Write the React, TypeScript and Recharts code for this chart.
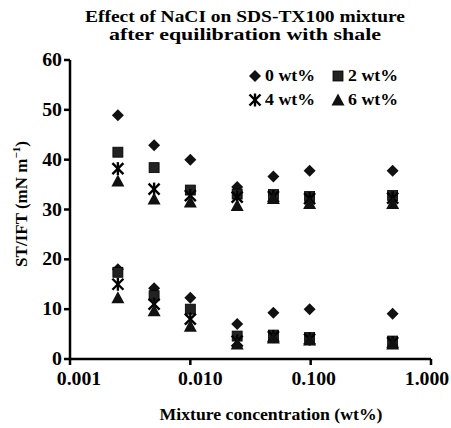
import React from 'react';
import { ScatterChart, Scatter, XAxis, YAxis, Label, Legend } from 'recharts';

const concentrations = [0.0025, 0.005, 0.01, 0.0245, 0.049, 0.098, 0.48];
const seriesNames = ['0 wt%', '2 wt%', '4 wt%', '6 wt%'];
const st0 = [48.9, 42.9, 40.0, 34.5, 36.6, 37.8, 37.8];
const ift0 = [18.0, 14.2, 12.3, 7.0, 9.3, 10.0, 9.1];
const st2 = [41.5, 38.4, 33.9, 33.1, 33.0, 32.6, 32.8];
const ift2 = [17.4, 12.7, 10.0, 4.6, 4.8, 4.3, 3.6];
const st4 = [38.2, 34.1, 32.8, 32.5, 32.6, 32.2, 32.3];
const ift4 = [15.0, 11.0, 8.0, 3.6, 4.5, 4.0, 3.3];
const st6 = [35.7, 32.1, 31.5, 30.8, 32.2, 31.2, 31.2];
const ift6 = [12.3, 9.7, 6.6, 3.0, 4.2, 3.8, 3.0];
const xTicks = [0.001, 0.01, 0.1, 1];
const yTicks = [0, 10, 20, 30, 40, 50, 60];
const titleLines = ['Effect of NaCI on SDS-TX100 mixture', 'after equilibration with shale'];
const xTitle = 'Mixture concentration (wt%)';

const FONT = '"Liberation Serif", "Times New Roman", serif';
const SX = 1.1;
const X_TICK_SHIFT = [9, 10, 3, -4];

const build = (st: number[], ift: number[]) =>
  concentrations.map((c, i) => ({ x: c, y: st[i] })).concat(concentrations.map((c, i) => ({ x: c, y: ift[i] })));

const seriesData = [build(st0, ift0), build(st2, ift2), build(st4, ift4), build(st6, ift6)];

const Diamond = (p: any) => {
  const { cx, cy } = p;
  const r = 6;
  return <path d={`M${cx},${cy - r}L${cx + r},${cy}L${cx},${cy + r}L${cx - r},${cy}Z`} fill="#111" />;
};
const Square = (p: any) => {
  const { cx, cy } = p;
  const s = 10;
  return <rect x={cx - s / 2} y={cy - s / 2} width={s} height={s} fill="#222" stroke="#000" strokeWidth={0.8} />;
};
const Aster = (p: any) => {
  const { cx, cy } = p;
  const r = 5.5;
  return (
    <g stroke="#000" strokeWidth={2.4} fill="none">
      <line x1={cx - r} y1={cy - r} x2={cx + r} y2={cy + r} />
      <line x1={cx - r} y1={cy + r} x2={cx + r} y2={cy - r} />
      <line x1={cx} y1={cy - r - 1} x2={cx} y2={cy + r + 1} />
    </g>
  );
};
const Tri = (p: any) => {
  const { cx, cy } = p;
  const r = 6.5;
  return <path d={`M${cx},${cy - r}L${cx + r},${cy + r * 0.85}L${cx - r},${cy + r * 0.85}Z`} fill="#111" />;
};

const shapes = [Diamond, Square, Aster, Tri];

const XTick = (p: any) => {
  const { x, y, payload, index } = p;
  const shift = X_TICK_SHIFT[index] ?? 0;
  return (
    <g transform={`translate(${x + shift},${y + 18}) scale(${SX},1)`}>
      <text x={0} y={0} textAnchor="middle" fontFamily={FONT} fontWeight="bold" fontSize={18} fill="#000">
        {Number(payload.value).toFixed(3)}
      </text>
    </g>
  );
};
const YTick = (p: any) => {
  const { x, y, payload } = p;
  return (
    <g transform={`translate(${x},${y + 6}) scale(${SX},1)`}>
      <text x={0} y={0} textAnchor="end" fontFamily={FONT} fontWeight="bold" fontSize={18} fill="#000">
        {payload.value}
      </text>
    </g>
  );
};

const YLabel = () => (
  <g transform="translate(27,204) rotate(-90)">
    <text x={0} y={0} textAnchor="middle" fontFamily={FONT} fontWeight="bold" fontSize={17} fill="#000">
      ST/IFT (mN m
      <tspan dy={-7} fontSize={11}>−1</tspan>
      <tspan dy={7}>)</tspan>
    </text>
  </g>
);

const XLabel = () => (
  <text
    x={271}
    y={420}
    textAnchor="middle"
    textLength={223}
    lengthAdjust="spacingAndGlyphs"
    fontFamily={FONT}
    fontWeight="bold"
    fontSize={17}
    fill="#000"
  >
    {xTitle}
  </text>
);

const LegendContent = () => {
  const items = seriesNames.map((n, i) => ({ n, S: shapes[i] }));
  return (
    <div style={{ display: 'grid', gridTemplateColumns: '83px 80px', rowGap: 6, fontFamily: FONT, fontWeight: 'bold', fontSize: 17 }}>
      {items.map(({ n, S }) => (
        <div key={n} style={{ display: 'flex', alignItems: 'center', height: 18 }}>
          <svg width={16} height={16} style={{ marginRight: 2 }}>
            <S cx={8} cy={8} />
          </svg>
          <span style={{ display: 'inline-block', transform: 'scaleX(1.05)', transformOrigin: 'left center' }}>{n}</span>
        </div>
      ))}
    </div>
  );
};

const titleWidths = [320, 272];
const AX = { stroke: '#000', strokeWidth: 2.5 };

export default function App() {
  return (
    <div style={{ position: 'absolute', left: 0, top: 0, width: 451, height: 428, background: '#fff' }}>
      <svg width={451} height={52} style={{ position: 'absolute', left: 0, top: 0 }}>
        {titleLines.map((t, i) => (
          <text
            key={t}
            x={245}
            y={22 + i * 18}
            textAnchor="middle"
            textLength={titleWidths[i]}
            lengthAdjust="spacingAndGlyphs"
            fontFamily={FONT}
            fontWeight="bold"
            fontSize={16}
            fill="#000"
          >
            {t}
          </text>
        ))}
      </svg>
      <ScatterChart width={451} height={428} margin={{ top: 60, right: 20, left: 0, bottom: 0 }}>
        <XAxis
          type="number"
          dataKey="x"
          scale="log"
          domain={[0.001, 1]}
          ticks={xTicks}
          allowDataOverflow
          height={69}
          stroke="#000"
          axisLine={AX}
          tickLine={AX}
          tickSize={6}
          tickMargin={2}
          tick={<XTick />}
          interval={0}
        >
          <Label content={<XLabel />} />
        </XAxis>
        <YAxis
          type="number"
          dataKey="y"
          domain={[0, 60]}
          ticks={yTicks}
          width={70}
          stroke="#000"
          axisLine={AX}
          tickLine={AX}
          tickSize={6}
          tickMargin={2}
          tick={<YTick />}
          interval={0}
        >
          <Label content={<YLabel />} />
        </YAxis>
        <Legend
          layout="horizontal"
          verticalAlign="middle"
          align="center"
          content={<LegendContent />}
          wrapperStyle={{ position: 'absolute', left: 247, top: 67, width: 170 }}
        />
        {seriesData.map((d, i) => (
          <Scatter key={seriesNames[i]} name={seriesNames[i]} data={d} shape={shapes[i]} isAnimationActive={false} />
        ))}
      </ScatterChart>
    </div>
  );
}
